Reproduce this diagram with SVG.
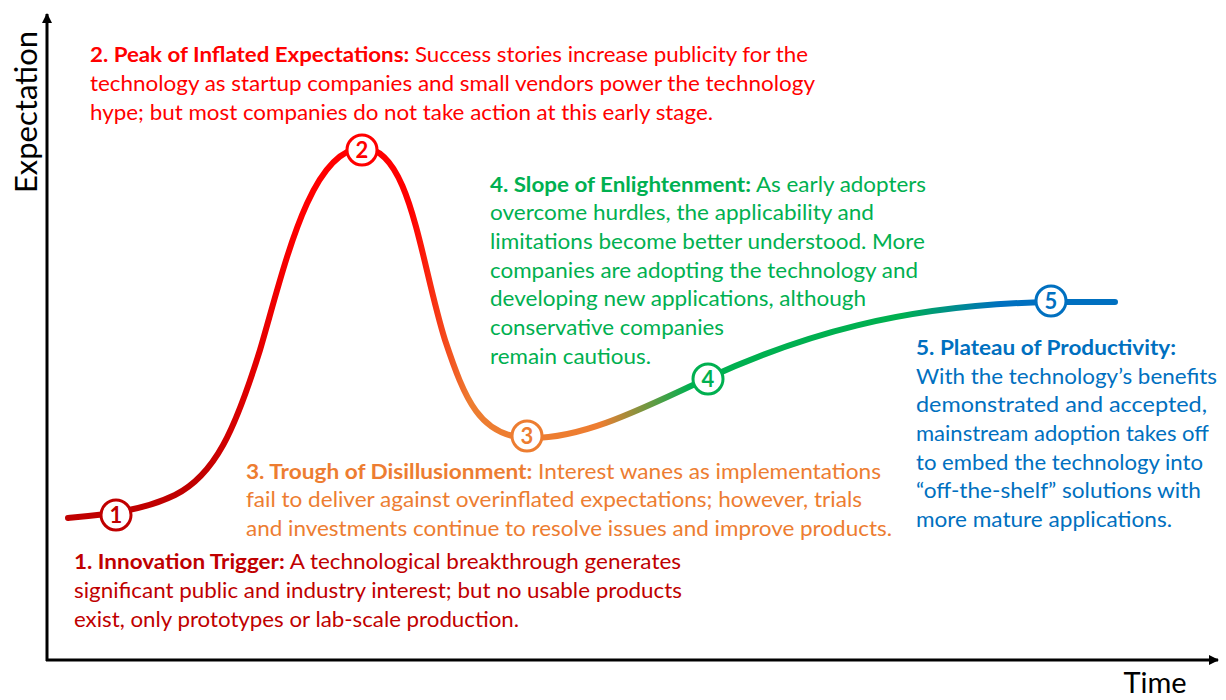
<svg xmlns="http://www.w3.org/2000/svg" width="1226" height="700" viewBox="0 0 1226 700">
<style>
text{font-family:Lato,"Open Sans","Liberation Sans",sans-serif;font-size:21px}
.b{font-weight:bold}
.c2{fill:#FF0000}.c1{fill:#C00000}.c3{fill:#ED7D31}.c4{fill:#00B050}.c5{fill:#0070C0}
.num{font-weight:bold;font-size:22px;text-anchor:middle}
.mk{fill:#fff;stroke-width:3}
.ax{font-size:31px;fill:#000}
</style>
<defs>
<marker id="arr" markerWidth="10" markerHeight="10" refX="9" refY="5" orient="auto" markerUnits="userSpaceOnUse"><path d="M0,0 L10,5 L0,10 Z" fill="#000"/></marker>
<linearGradient id="g" gradientUnits="userSpaceOnUse" x1="68" y1="0" x2="1115" y2="0">
<stop offset="0" stop-color="#C00000"/><stop offset="0.126" stop-color="#C00000"/>
<stop offset="0.222" stop-color="#FF0000"/><stop offset="0.327" stop-color="#FF0000"/>
<stop offset="0.384" stop-color="#ED7D31"/><stop offset="0.508" stop-color="#ED7D31"/>
<stop offset="0.594" stop-color="#00B050"/><stop offset="0.795" stop-color="#00B050"/>
<stop offset="0.89" stop-color="#0070C0"/><stop offset="1" stop-color="#0070C0"/>
</linearGradient>
</defs>
<g id="axes">
<line x1="47" y1="661" x2="47" y2="14" stroke="#000" stroke-width="3" marker-end="url(#arr)"/>
<line x1="46" y1="660" x2="1218" y2="660" stroke="#000" stroke-width="3" marker-end="url(#arr)"/>
<text class="ax" transform="translate(37,112) rotate(-90)" text-anchor="middle">Expectation</text>
<text class="ax" x="1155" y="693" text-anchor="middle" style="font-size:29px">Time</text>
</g>
<g id="connectors">
<path d="M68,518 C100,515 140,512 175,495 C215,475 235,430 260,350 C285,265 310,150 362,148 C410,146 420,260 445,340 C465,400 480,436 527,438 C580,440 640,410 708,378 C800,336 900,305 1050,302 L1115,302" fill="none" stroke="url(#g)" stroke-width="6" stroke-linecap="round"/>
</g>
<g id="m1"><circle class="mk" cx="116" cy="515" r="15" stroke="#C00000"/><text class="num c1" x="116" y="523">1</text></g>
<g id="m2"><circle class="mk" cx="362" cy="150" r="15" stroke="#FF0000"/><text class="num c2" x="362" y="158">2</text></g>
<g id="m3"><circle class="mk" cx="527" cy="436" r="15" stroke="#ED7D31"/><text class="num c3" x="527" y="444">3</text></g>
<g id="m4"><circle class="mk" cx="708" cy="379" r="15" stroke="#00B050"/><text class="num c4" x="708" y="387">4</text></g>
<g id="m5"><circle class="mk" cx="1051" cy="301" r="15" stroke="#0070C0"/><text class="num c5" x="1051" y="309">5</text></g>
<g id="t2" class="c2">
<text x="90" y="62" textLength="718" lengthAdjust="spacingAndGlyphs"><tspan class="b">2. Peak of Inflated Expectations:</tspan> Success stories increase publicity for the</text>
<text x="90" y="91" textLength="725" lengthAdjust="spacingAndGlyphs">technology as startup companies and small vendors power the technology</text>
<text x="90" y="120" textLength="623" lengthAdjust="spacingAndGlyphs">hype; but most companies do not take action at this early stage.</text>
</g>
<g id="t4" class="c4">
<text x="490" y="192" textLength="436" lengthAdjust="spacingAndGlyphs"><tspan class="b">4. Slope of Enlightenment:</tspan> As early adopters</text>
<text x="490" y="220" textLength="384" lengthAdjust="spacingAndGlyphs">overcome hurdles, the applicability and</text>
<text x="490" y="249" textLength="435" lengthAdjust="spacingAndGlyphs">limitations become better understood. More</text>
<text x="490" y="278" textLength="428" lengthAdjust="spacingAndGlyphs">companies are adopting the technology and</text>
<text x="490" y="306" textLength="376" lengthAdjust="spacingAndGlyphs">developing new applications, although</text>
<text x="490" y="335" textLength="234" lengthAdjust="spacingAndGlyphs">conservative companies</text>
<text x="490" y="364" textLength="161" lengthAdjust="spacingAndGlyphs">remain cautious.</text>
</g>
<g id="t3" class="c3">
<text x="246" y="479" textLength="635" lengthAdjust="spacingAndGlyphs"><tspan class="b">3. Trough of Disillusionment:</tspan> Interest wanes as implementations</text>
<text x="246" y="507" textLength="616" lengthAdjust="spacingAndGlyphs">fail to deliver against overinflated expectations; however, trials</text>
<text x="246" y="536" textLength="646" lengthAdjust="spacingAndGlyphs">and investments continue to resolve issues and improve products.</text>
</g>
<g id="t1" class="c1">
<text x="74" y="569" textLength="607" lengthAdjust="spacingAndGlyphs"><tspan class="b">1. Innovation Trigger:</tspan> A technological breakthrough generates</text>
<text x="74" y="598" textLength="608" lengthAdjust="spacingAndGlyphs">significant public and industry interest; but no usable products</text>
<text x="74" y="627" textLength="445" lengthAdjust="spacingAndGlyphs">exist, only prototypes or lab-scale production.</text>
</g>
<g id="t5" class="c5">
<text x="916" y="355" class="b" textLength="260" lengthAdjust="spacingAndGlyphs">5. Plateau of Productivity:</text>
<text x="916" y="384" textLength="301" lengthAdjust="spacingAndGlyphs">With the technology’s benefits</text>
<text x="916" y="412" textLength="291" lengthAdjust="spacingAndGlyphs">demonstrated and accepted,</text>
<text x="916" y="441" textLength="293" lengthAdjust="spacingAndGlyphs">mainstream adoption takes off</text>
<text x="916" y="470" textLength="287" lengthAdjust="spacingAndGlyphs">to embed the technology into</text>
<text x="916" y="498" textLength="285" lengthAdjust="spacingAndGlyphs">“off-the-shelf” solutions with</text>
<text x="916" y="527" textLength="256" lengthAdjust="spacingAndGlyphs">more mature applications.</text>
</g>
</svg>
